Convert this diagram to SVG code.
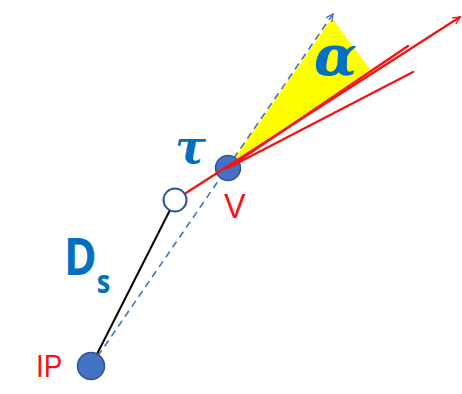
<svg xmlns="http://www.w3.org/2000/svg" width="462" height="394" viewBox="0 0 462 394">
  <style>
    .red { stroke: #F51414; stroke-width: 2.4; fill: none; stroke-linecap: round; }
    .lbl-blue { fill: #0070C0; font-weight: bold; }
    .lbl-red { fill: #F51414; font-family: "Liberation Sans", Arial, sans-serif; }
  </style>
  <defs>
    <marker id="arrBlue" viewBox="0 0 10 10" refX="9" refY="5" markerWidth="9" markerHeight="9" orient="auto" markerUnits="userSpaceOnUse">
      <path d="M1,1 L9,5 L1,9" fill="none" stroke="#4472C4" stroke-width="1.5"/>
    </marker>
    <marker id="arrRed" viewBox="0 0 10 10" refX="9" refY="5" markerWidth="9" markerHeight="9" orient="auto" markerUnits="userSpaceOnUse">
      <path d="M1,1 L9,5 L1,9" fill="none" stroke="#F51414" stroke-width="1.5"/>
    </marker>
  </defs>
  <rect width="462" height="394" fill="#FFFFFF"/>
  <g id="cone">
    <polygon points="228,168 332,18 372,72" fill="#FFFF00"/>
  </g>
  <g id="connectors">
    <line x1="91" y1="366" x2="333" y2="14" stroke="#4472C4" stroke-width="1.6" stroke-dasharray="7,5" marker-end="url(#arrBlue)"/>
    <line x1="91" y1="366" x2="170" y2="210" stroke="#000000" stroke-width="2"/>
  </g>
  <g id="node-IP">
    <circle cx="91" cy="366" r="13.5" fill="#4472C4" stroke="#2F5597" stroke-width="1.5"/>
    <text class="lbl-red" x="36" y="377" font-size="31" transform="translate(36,377) scale(0.9,1) translate(-36,-377)">IP</text>
  </g>
  <g id="node-V">
    <circle cx="228" cy="168" r="12.5" fill="#4472C4" stroke="#2F5597" stroke-width="1.5"/>
    <text class="lbl-red" x="224" y="218" font-size="36" transform="translate(224,218) scale(0.9,1) translate(-224,-218)">V</text>
  </g>
  <g id="tracks">
    <line class="red" x1="186" y1="193" x2="460" y2="17" marker-end="url(#arrRed)"/>
    <line class="red" x1="228" y1="168" x2="408" y2="46"/>
    <line class="red" x1="228" y1="168" x2="413" y2="72"/>
  </g>
  <g id="node-tau-end">
    <circle cx="175" cy="200" r="11.5" fill="#FFFFFF" stroke="#2F5597" stroke-width="2"/>
  </g>
  <g id="labels">
    <text class="lbl-blue" x="175" y="163" font-size="46" font-family="DejaVu Serif, serif" font-style="italic">τ</text>
    <text class="lbl-blue" x="314" y="75" font-size="56" font-family="DejaVu Serif, serif" font-style="italic">α</text>
    <text class="lbl-blue" font-size="52" font-family="Open Sans, sans-serif" transform="translate(64,275) scale(0.85,1)">D<tspan font-size="32" dy="18">s</tspan></text>
  </g>
</svg>
